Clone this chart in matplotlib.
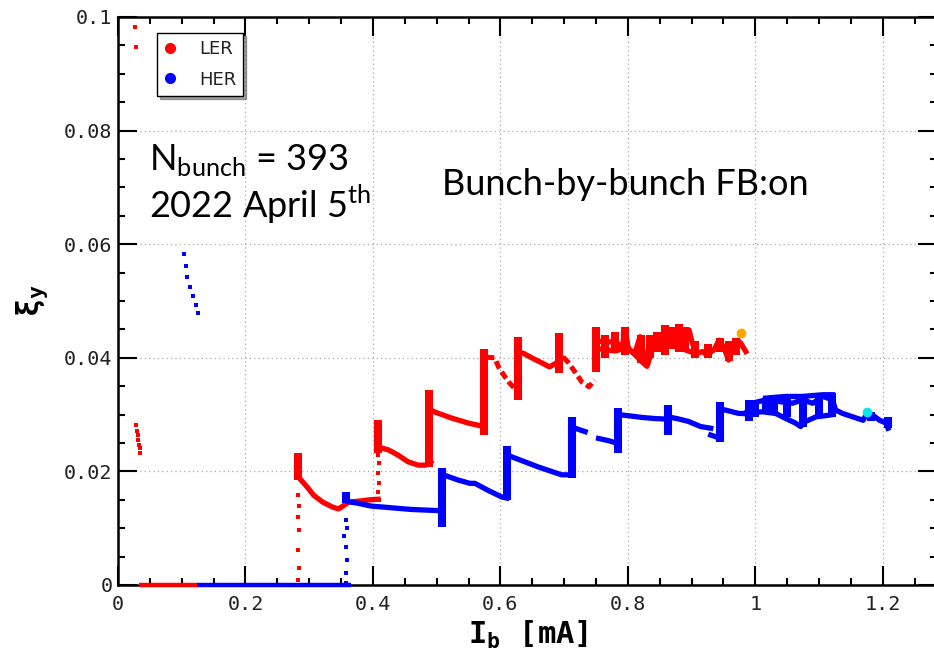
import numpy as np
import matplotlib
matplotlib.use('Agg')
import matplotlib.pyplot as plt
from matplotlib.lines import Line2D
from matplotlib.ticker import MultipleLocator, FuncFormatter

nan = np.nan

# ---- LER (red) ----
ler_dots_x = [0.027, 0.028, 0.028, 0.030, 0.031, 0.032, 0.033, 0.034, 0.035,
              0.283, 0.284, 0.283, 0.284, 0.283, 0.284, 0.283,
              0.408, 0.409, 0.408, 0.409, 0.408, 0.409]
ler_dots_y = [0.0982, 0.0947, 0.0282, 0.0271, 0.0264, 0.0255, 0.0246, 0.0241, 0.0232,
              0.0158, 0.0139, 0.0120, 0.0097, 0.0062, 0.0030, 0.0009,
              0.0229, 0.0215, 0.0197, 0.0180, 0.0164, 0.0150]

ler_trace_x = [0.287, 0.298, 0.307, 0.321, 0.337, 0.346, 0.353, 0.362, 0.381, 0.395, 0.408, nan,
               0.408, 0.424, 0.439, 0.455, 0.471, 0.483, 0.491, nan,
               0.491, 0.496, 0.523, 0.550, 0.570, 0.575, nan,
               0.628, 0.636, 0.649, 0.665, 0.677, 0.688, 0.696, nan,
               0.750, 0.764, 0.780, 0.791, 0.796, 0.801, 0.811, 0.819, 0.827, 0.838, 0.854,
               0.859, 0.869, 0.880, 0.885, 0.896, 0.901, 0.909, 0.917, 0.924, 0.935, 0.943,
               0.951, 0.958, 0.964, 0.972, 0.977, 0.985, nan,
               0.760, 0.780, 0.800, 0.822, 0.830, 0.840, 0.860, 0.880, 0.900]
ler_trace_y = [0.0185, 0.0171, 0.0158, 0.0146, 0.0137, 0.0134, 0.0139, 0.0146, 0.0148, 0.0150, 0.0151, nan,
               0.0243, 0.0238, 0.0229, 0.0217, 0.0211, 0.0211, 0.0217, nan,
               0.0308, 0.0305, 0.0294, 0.0285, 0.0280, 0.0278, nan,
               0.0410, 0.0408, 0.0400, 0.0391, 0.0384, 0.0391, 0.0401, nan,
               0.0430, 0.0428, 0.0428, 0.0420, 0.0449, 0.0414, 0.0408, 0.0437, 0.0396, 0.0414, 0.0431,
               0.0449, 0.0437, 0.0455, 0.0440, 0.0449, 0.0426, 0.0408, 0.0411, 0.0405, 0.0414, 0.0431,
               0.0417, 0.0396, 0.0420, 0.0431, 0.0426, 0.0411, nan,
               0.0415, 0.0412, 0.0418, 0.0393, 0.0385, 0.0420, 0.0425, 0.0418, 0.0410]

# broken (dashed-looking) pieces
ler_dash_x = [0.578, 0.591, 0.597, 0.605, 0.614, 0.625, nan,
              0.699, 0.707, 0.717, 0.728, 0.739, 0.748]
ler_dash_y = [0.0401, 0.0400, 0.0384, 0.0370, 0.0356, 0.0343, nan,
              0.0401, 0.0391, 0.0375, 0.0357, 0.0349, 0.0361]

# vertical jumps: x, low, high
ler_jump_x = [0.283, 0.408, 0.488, 0.574, 0.628, 0.692, 0.750, 0.796, 0.859, 0.880, 0.835, 0.958,
              0.764, 0.780, 0.820, 0.845, 0.870, 0.890, 0.905, 0.925, 0.945, 0.970]
ler_jump_lo = [0.0185, 0.0232, 0.0208, 0.0264, 0.0326, 0.0373, 0.0375, 0.0405, 0.0405, 0.0410, 0.0400, 0.0395,
               0.0400, 0.0410, 0.0390, 0.0410, 0.0415, 0.0410, 0.0400, 0.0400, 0.0410, 0.0405]
ler_jump_hi = [0.0232, 0.0290, 0.0343, 0.0415, 0.0437, 0.0444, 0.0454, 0.0455, 0.0458, 0.0460, 0.0440, 0.0430,
               0.0440, 0.0445, 0.0440, 0.0445, 0.0455, 0.0455, 0.0430, 0.0425, 0.0435, 0.0435]

ler_base = [0.033, 0.124]
ler_last = (0.978, 0.0443)

# ---- HER (blue) ----
her_dots_x = [0.104, 0.106, 0.109, 0.113, 0.118, 0.122, 0.125,
              0.357, 0.359, 0.355, 0.358, 0.359, 0.357, 0.357]
her_dots_y = [0.0582, 0.0562, 0.0543, 0.0525, 0.0509, 0.0493, 0.0478,
              0.0114, 0.0100, 0.0086, 0.0067, 0.0044, 0.0021, 0.0004]

her_trace_x = [0.357, 0.360, 0.376, 0.397, 0.418, 0.439, 0.460, 0.481, 0.502, nan,
               0.508, 0.518, 0.533, 0.552, 0.560, 0.580, 0.602, 0.610, nan,
               0.610, 0.617, 0.638, 0.659, 0.680, 0.696, 0.712, nan,
               0.712, 0.717, 0.733, nan, 0.754, 0.770, 0.785, nan,
               0.785, 0.801, 0.822, 0.843, 0.863, nan,
               0.863, 0.877, 0.895, 0.914, 0.930, nan,
               0.930, 0.946, nan,
               0.945, 0.953, 0.974, 0.990, nan,
               0.985, 0.995, 1.016, 1.037, 1.058, 1.074, 1.090, 1.106, 1.121, 1.126, 1.137,
               1.153, 1.169, 1.175, 1.184, 1.195, 1.205, 1.208, nan,
               0.985, 1.011, 1.032, 1.048, 1.063, 1.071, 1.079, 1.095, 1.116, 1.121, nan,
               1.016, 1.048, 1.074, 1.106, 1.121]
her_trace_y = [0.0150, 0.0147, 0.0144, 0.0139, 0.0137, 0.0135, 0.0133, 0.0132, 0.0131, nan,
               0.0195, 0.0191, 0.0185, 0.0179, 0.0179, 0.0167, 0.0155, 0.0153, nan,
               0.0230, 0.0226, 0.0217, 0.0208, 0.0200, 0.0194, 0.0194, nan,
               0.0280, 0.0276, 0.0270, nan, 0.0258, 0.0254, 0.0249, nan,
               0.0300, 0.0298, 0.0295, 0.0293, 0.0292, nan,
               0.0296, 0.0293, 0.0288, 0.0279, 0.0276, nan,
               0.0264, 0.0258, nan,
               0.0310, 0.0308, 0.0302, 0.0302, nan,
               0.0302, 0.0320, 0.0326, 0.0323, 0.0320, 0.0326, 0.0320, 0.0332, 0.0326, 0.0308, 0.0302,
               0.0296, 0.0290, 0.0302, 0.0299, 0.0290, 0.0285, 0.0276, nan,
               0.0302, 0.0305, 0.0302, 0.0293, 0.0285, 0.0279, 0.0288, 0.0296, 0.0299, 0.0300, nan,
               0.0329, 0.0332, 0.0332, 0.0335, 0.0335]

her_jump_x = [0.357, 0.508, 0.610, 0.712, 0.785, 0.863, 0.945, 0.990, 1.074, 1.121, 1.208, 1.030, 1.182,
              1.000, 1.016, 1.050, 1.100]
her_jump_lo = [0.0144, 0.0102, 0.0150, 0.0188, 0.0232, 0.0264, 0.0252, 0.0288, 0.0279, 0.0296, 0.0276, 0.0300, 0.0288,
               0.0296, 0.0305, 0.0295, 0.0298]
her_jump_hi = [0.0164, 0.0206, 0.0244, 0.0296, 0.0312, 0.0317, 0.0323, 0.0326, 0.0335, 0.0338, 0.0295, 0.0330, 0.0305,
               0.0326, 0.0330, 0.0332, 0.0335]

her_base = [0.124, 0.365]
her_last = (1.175, 0.0304)

RED = '#ff0000'
BLUE = '#0000ff'

fig = plt.figure(figsize=(9.34, 6.57), dpi=100)
ax = fig.add_axes([118 / 934, 72 / 657, 819 / 934, 568 / 657])


def draw(color, dots_x, dots_y, tr_x, tr_y, jx, jlo, jhi, base, dash_x=None, dash_y=None):
    ax.plot(base, [0, 0], color=color, lw=3.2, solid_capstyle='butt', clip_on=False, zorder=4)
    ax.plot(dots_x, dots_y, 's', color=color, ms=2.8, mew=0, zorder=3)
    ax.plot(tr_x, tr_y, color=color, lw=3.8, solid_joinstyle='round', zorder=3)
    if dash_x is not None:
        ax.plot(dash_x, dash_y, color=color, lw=3.6, ls=(0, (1.6, 0.8)), zorder=3)
    ax.vlines(jx, jlo, jhi, color=color, lw=5.8, zorder=3)


draw(RED, ler_dots_x, ler_dots_y, ler_trace_x, ler_trace_y,
     ler_jump_x, ler_jump_lo, ler_jump_hi, ler_base, ler_dash_x, ler_dash_y)
draw(BLUE, her_dots_x, her_dots_y, her_trace_x, her_trace_y,
     her_jump_x, her_jump_lo, her_jump_hi, her_base)

ax.plot(*ler_last, 'o', color='#ffa500', ms=7, mew=0, zorder=5)
ax.plot(*her_last, 'o', color='#00e8f0', ms=7, mew=0, zorder=5)

ax.set_xlim(0, 1.285)
ax.set_ylim(0, 0.1)
ax.xaxis.set_major_locator(MultipleLocator(0.2))
ax.xaxis.set_minor_locator(MultipleLocator(0.05))
ax.yaxis.set_major_locator(MultipleLocator(0.02))
ax.yaxis.set_minor_locator(MultipleLocator(0.005))
fmt = FuncFormatter(lambda v, _: f'{v:g}')
ax.xaxis.set_major_formatter(fmt)
ax.yaxis.set_major_formatter(fmt)

ax.tick_params(which='both', direction='in', top=True, right=True, width=1.5, colors='black')
ax.tick_params(which='major', length=14, labelsize=14.5, pad=4)
ax.tick_params(axis='x', which='major', pad=7)
ax.tick_params(which='minor', length=5)
for lab in ax.get_xticklabels() + ax.get_yticklabels():
    lab.set_family('DejaVu Sans Mono')
    lab.set_color('#222222')
for sp in ax.spines.values():
    sp.set_linewidth(1.8)

ax.grid(True, which='major', color='#a8a8a8', lw=0.9, ls=(0, (1, 2.5)))
ax.set_axisbelow(True)

ax.set_xlabel('I$_\\mathregular{b}$ [mA]', fontfamily='DejaVu Sans Mono', fontweight='bold', fontsize=22)
ax.set_ylabel('ξ$_\\mathregular{y}$', fontfamily='DejaVu Sans Mono', fontweight='bold', fontsize=22)
ax.xaxis.set_label_coords(0.5, -0.06)
ax.yaxis.set_label_coords(-0.083, 0.5)

# annotations
tfont = dict(fontfamily='Lato', fontsize=26, color='black', va='baseline')
ax.text(0.049, 0.0731, 'N$_\\mathregular{bunch}$ = 393', **tfont)
ax.text(0.049, 0.0646, '2022 April 5$^\\mathregular{th}$', **tfont)
ax.text(0.509, 0.0687, 'Bunch-by-bunch FB:on', **tfont)

handles = [Line2D([], [], ls='none', marker='o', color=RED, ms=8, mew=0),
           Line2D([], [], ls='none', marker='o', color=BLUE, ms=8, mew=0)]
leg = ax.legend(handles, ['LER', 'HER'], loc='upper left', bbox_to_anchor=(0.048, 0.972),
                borderaxespad=0, fontsize=13, handlelength=0.6, handletextpad=1.3,
                borderpad=0.4, labelspacing=0.7, fancybox=False, shadow=True,
                edgecolor='black', framealpha=1)
leg.get_frame().set_linewidth(1.0)
for t in leg.get_texts():
    t.set_color('#222222')

fig.savefig('out.png', dpi=100)
